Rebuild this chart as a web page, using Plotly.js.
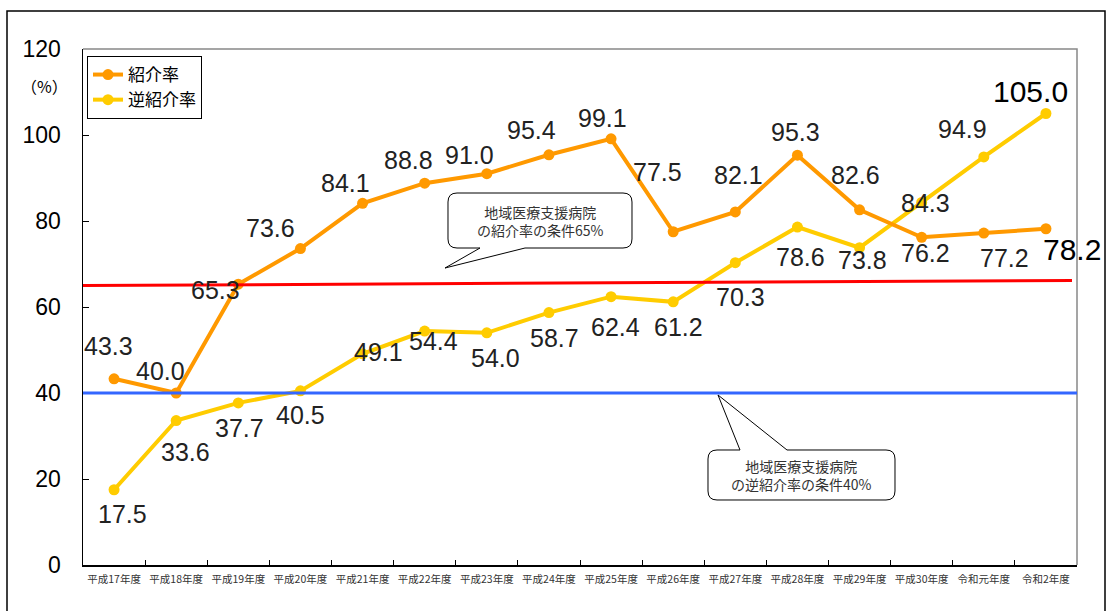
<!DOCTYPE html>
<html>
<head>
<meta charset="utf-8">
<script src="https://cdn.plot.ly/plotly-3.0.1.min.js"></script>
<style>
  html, body { margin: 0; padding: 0; background: #fff; }
  #chart { width: 1111px; height: 611px; }
</style>
</head>
<body>
<div id="chart"></div>
<script>
// ---- Data ----
const categories = ['平成17年度', '平成18年度', '平成19年度', '平成20年度', '平成21年度', '平成22年度',
  '平成23年度', '平成24年度', '平成25年度', '平成26年度', '平成27年度', '平成28年度',
  '平成29年度', '平成30年度', '令和元年度', '令和2年度'];
const referralRate = [43.3, 40.0, 65.3, 73.6, 84.1, 88.8, 91.0, 95.4, 99.1, 77.5, 82.1, 95.3, 82.6, 76.2, 77.2, 78.2];
const reverseReferralRate = [17.5, 33.6, 37.7, 40.5, 49.1, 54.4, 54.0, 58.7, 62.4, 61.2, 70.3, 78.6, 73.8, 84.3, 94.9, 105.0];
const seriesNames = ['紹介率', '逆紹介率'];
const thresholdValues = [65, 40];
const thresholdNotes = ['地域医療支援病院<br>の紹介率の条件65%', '地域医療支援病院<br>の逆紹介率の条件40%'];
const yTickValues = [0, 20, 40, 60, 80, 100, 120];
const yUnitLabel = '（%）';

// ---- Label placement (pixel offsets from each point: [dx, dy], dy downward) ----
const referralLabelOffsets = [[-6, -33], [-16, -22], [-23, 6], [-30, -21], [-17, -20], [-16, -23], [-17, -19], [-17, -25],
  [-9, -21], [-16, -60], [3, -37], [-2, -23], [-4, -35], [4, 16], [21, 25], [26, 21]];
const reverseLabelOffsets = [[8, 24], [9, 31], [1, 25], [0, 24], [16, -2], [9, 10], [9, 25], [6, 25],
  [4, 30], [5, 25], [5, 34], [3, 30], [3, 12], [4, 0], [-21, -28], [-15, -22]];
const emphasizedLast = true;

// ---- Layout geometry ----
const W = 1111, H = 611, ML = 83, MR = 34, MT = 49, MB = 46;
const PW = W - ML - MR, PH = H - MT - MB;
const px = x => (x - ML) / PW;
const py = y => (H - MB - y) / PH;

const orange = '#FF9900', yellow = '#FFCC00';

const traces = [
  {
    x: categories, y: reverseReferralRate, name: seriesNames[1], type: 'scatter', mode: 'lines+markers',
    line: { color: yellow, width: 4 }, marker: { color: yellow, size: 11 }
  },
  {
    x: categories, y: referralRate, name: seriesNames[0], type: 'scatter', mode: 'lines+markers',
    line: { color: orange, width: 4 }, marker: { color: orange, size: 11 }
  }
];

const annotations = [];
function addLabels(values, offsets) {
  values.forEach((v, i) => {
    const big = emphasizedLast && i === values.length - 1;
    annotations.push({
      x: categories[i], y: v, xref: 'x', yref: 'y', showarrow: false,
      xanchor: 'center', yanchor: 'middle',
      text: v.toFixed(1), xshift: offsets[i][0], yshift: -offsets[i][1],
      font: { family: 'Liberation Sans', size: big ? 30 : 25, color: big ? '#000' : '#222' }
    });
  });
}
addLabels(referralRate, referralLabelOffsets);
addLabels(reverseReferralRate, reverseLabelOffsets);

annotations.push({
  x: px(44), y: py(86), xref: 'paper', yref: 'paper', showarrow: false, text: yUnitLabel,
  xanchor: 'center', yanchor: 'middle',
  font: { family: 'Noto Sans CJK JP', size: 16, color: '#000' }
});

// callout boxes
function calloutPath(L, R, T, B, r, side, b1, b2, tx, ty) {
  const P = (x, y) => px(x).toFixed(5) + ',' + py(y).toFixed(5);
  if (side === 'bottom') {
    return 'M' + P(L + r, T) + ' L' + P(R - r, T) + ' Q' + P(R, T) + ' ' + P(R, T + r) +
      ' L' + P(R, B - r) + ' Q' + P(R, B) + ' ' + P(R - r, B) +
      ' L' + P(b2, B) + ' L' + P(tx, ty) + ' L' + P(b1, B) +
      ' L' + P(L + r, B) + ' Q' + P(L, B) + ' ' + P(L, B - r) +
      ' L' + P(L, T + r) + ' Q' + P(L, T) + ' ' + P(L + r, T) + ' Z';
  }
  return 'M' + P(L + r, T) + ' L' + P(b1, T) + ' L' + P(tx, ty) + ' L' + P(b2, T) +
    ' L' + P(R - r, T) + ' Q' + P(R, T) + ' ' + P(R, T + r) +
    ' L' + P(R, B - r) + ' Q' + P(R, B) + ' ' + P(R - r, B) +
    ' L' + P(L + r, B) + ' Q' + P(L, B) + ' ' + P(L, B - r) +
    ' L' + P(L, T + r) + ' Q' + P(L, T) + ' ' + P(L + r, T) + ' Z';
}

const box1 = { L: 448, R: 632, T: 193, B: 248 };
const box2 = { L: 708, R: 895, T: 450, B: 500 };

[box1, box2].forEach((b, k) => {
  annotations.push({
    x: px((b.L + b.R) / 2), y: py((b.T + b.B) / 2), xref: 'paper', yref: 'paper',
    xanchor: 'center', yanchor: 'middle',
    showarrow: false, text: thresholdNotes[k], align: 'center',
    font: { family: 'Noto Sans CJK JP', size: 14, color: '#333' }
  });
});

const shapes = [
  // outer frame
  { type: 'rect', xref: 'paper', yref: 'paper', x0: px(7), x1: px(1105), y0: py(620), y1: py(11),
    line: { color: '#000', width: 1.5 }, layer: 'below' },
  // top/right plot border
  { type: 'path', xref: 'paper', yref: 'paper', path: 'M0,1 L1,1 L1,0', line: { color: '#888', width: 1.5 }, layer: 'below' },
  // threshold lines
  { type: 'line', xref: 'paper', x0: 0, x1: px(1072), yref: 'y', ysizemode: 'pixel', yanchor: thresholdValues[0],
    y0: 0, y1: 5, line: { color: '#FF0000', width: 3 } },
  { type: 'line', xref: 'paper', x0: 0, x1: 1, yref: 'y', y0: thresholdValues[1], y1: thresholdValues[1],
    line: { color: '#3366FF', width: 3 } },
  // callouts
  { type: 'path', xref: 'paper', yref: 'paper',
    path: calloutPath(box1.L, box1.R, box1.T, box1.B, 9, 'bottom', 480, 525, 445, 268),
    fillcolor: '#fff', line: { color: '#000', width: 1 } },
  { type: 'path', xref: 'paper', yref: 'paper',
    path: calloutPath(box2.L, box2.R, box2.T, box2.B, 9, 'top', 740, 787, 718, 395),
    fillcolor: '#fff', line: { color: '#000', width: 1 } }
];

const layout = {
  width: W, height: H,
  margin: { l: ML, r: MR, t: MT, b: MB },
  paper_bgcolor: '#fff', plot_bgcolor: '#fff',
  showlegend: true,
  legend: {
    x: px(87), y: py(56), xanchor: 'left', yanchor: 'top',
    bgcolor: '#fff', bordercolor: '#000', borderwidth: 1,
    font: { family: 'Noto Sans CJK JP', size: 17, color: '#000' },
    traceorder: 'reversed', tracegroupgap: 0, itemwidth: 30
  },
  xaxis: {
    type: 'category', range: [-0.5, categories.length - 0.5],
    showgrid: false, zeroline: false,
    showline: true, linecolor: '#000', linewidth: 1.5,
    ticks: 'inside', tickson: 'boundaries', ticklen: 5, tickcolor: '#000',
    tickangle: 0,
    tickfont: { family: 'Noto Sans CJK JP', size: 10.5, color: '#333' },
    ticklabelstandoff: 4, fixedrange: true
  },
  yaxis: {
    range: [0, 120], tickvals: yTickValues, showgrid: false, zeroline: false,
    showline: true, linecolor: '#000', linewidth: 1.5,
    ticks: 'inside', ticklen: 6, tickcolor: '#000',
    tickfont: { family: 'Liberation Sans', size: 23, color: '#000' },
    ticklabelstandoff: 16, fixedrange: true
  },
  annotations: annotations,
  shapes: shapes
};

Plotly.newPlot('chart', traces, layout, { displayModeBar: false, staticPlot: true });
</script>
</body>
</html>
